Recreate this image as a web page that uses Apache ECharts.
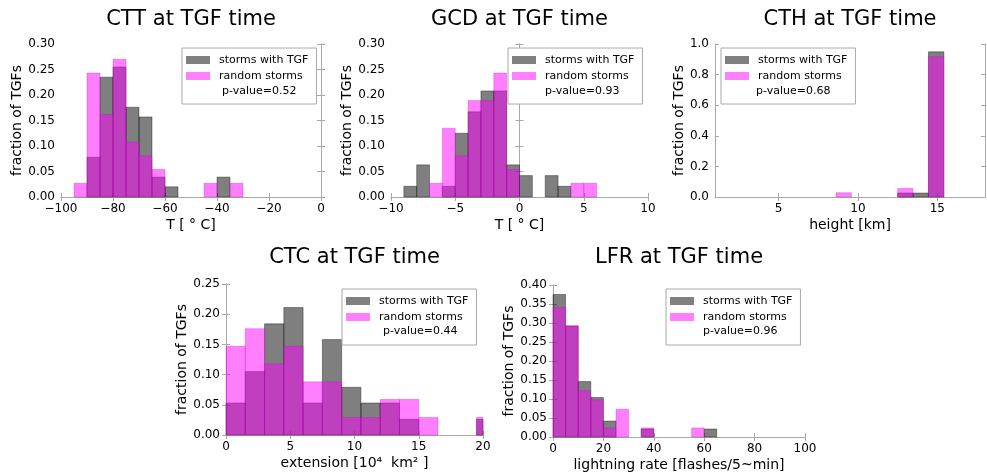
<!DOCTYPE html>
<html><head><meta charset="utf-8">
<script src="https://cdn.jsdelivr.net/npm/echarts@6/dist/echarts.min.js"></script>
<style>html,body{margin:0;padding:0;background:#fff}#c{width:987px;height:474px}</style>
</head><body><div id="c"></div>
<script>
// ---------- data ----------
const seriesNames = ['storms with TGF', 'random storms'];

// CTT (cloud top temperature)
const cttEdges  = [-95, -90, -85, -80, -75, -70, -65, -60, -55, -50, -45, -40, -35, -30];
const cttTGF    = [0, 0.078, 0.235, 0.255, 0.176, 0.157, 0.039, 0.020, 0, 0, 0, 0.039, 0];
const cttRandom = [0.027, 0.243, 0.162, 0.270, 0.108, 0.081, 0.054, 0, 0, 0, 0.027, 0, 0.027];
const cttP = 'p-value=0.52';
const cttXTicks = [-100, -80, -60, -40, -20, 0];
const cttYTicks = [0, 0.05, 0.10, 0.15, 0.20, 0.25, 0.30];

// GCD
const gcdEdges  = [-9, -8, -7, -6, -5, -4, -3, -2, -1, 0, 1, 2, 3, 4, 5, 6];
const gcdTGF    = [0.021, 0.063, 0, 0.021, 0.125, 0.167, 0.208, 0.208, 0.063, 0.042, 0, 0.042, 0.021, 0, 0];
const gcdRandom = [0, 0, 0.027, 0.135, 0.081, 0.189, 0.189, 0.243, 0.054, 0, 0, 0, 0, 0.027, 0.027];
const gcdP = 'p-value=0.93';
const gcdXTicks = [-10, -5, 0, 5, 10];
const gcdYTicks = [0, 0.05, 0.10, 0.15, 0.20, 0.25, 0.30];

// CTH (cloud top height)
const cthEdges  = [8.62, 9.59, 10.56, 11.53, 12.50, 13.47, 14.44, 15.41];
const cthTGF    = [0, 0, 0, 0, 0.026, 0.026, 0.949];
const cthRandom = [0.028, 0, 0, 0, 0.056, 0, 0.917];
const cthP = 'p-value=0.68';
const cthXRange = [1, 18];
const cthXTicks = [5, 10, 15];
const cthYTicks = [0, 0.2, 0.4, 0.6, 0.8, 1.0];

// CTC (cloud top extension)
const ctcEdges  = [0, 1.5, 3, 4.5, 6, 7.5, 9, 10.5, 12, 13.5, 15, 16.5, 18, 19.5, 21];
const ctcTGF    = [0.053, 0.105, 0.184, 0.211, 0.053, 0.158, 0.079, 0.053, 0.053, 0.026, 0, 0, 0, 0.026];
const ctcRandom = [0.147, 0.176, 0.118, 0.147, 0.088, 0.088, 0.029, 0.029, 0.059, 0.059, 0.029, 0, 0, 0.029];
const ctcP = 'p-value=0.44';
const ctcXTicks = [0, 5, 10, 15, 20];
const ctcYTicks = [0, 0.05, 0.10, 0.15, 0.20, 0.25];

// LFR (lightning flash rate)
const lfrEdges  = [0, 5, 10, 15, 20, 25, 30, 35, 40, 45, 50, 55, 60, 65];
const lfrTGF    = [0.375, 0.292, 0.146, 0.104, 0.042, 0, 0, 0.021, 0, 0, 0, 0, 0.021];
const lfrRandom = [0.341, 0.293, 0.122, 0.098, 0.024, 0.073, 0, 0.024, 0, 0, 0, 0.024, 0];
const lfrP = 'p-value=0.96';
const lfrXTicks = [0, 20, 40, 60, 80, 100];
const lfrYTicks = [0, 0.05, 0.10, 0.15, 0.20, 0.25, 0.30, 0.35, 0.40];

// ---------- layout / style ----------
const FONT = 'DejaVu Sans';
const FRAME = '#a8a8a8';
const panels = [
  {title: 'CTT at TGF time', edges: cttEdges, tgf: cttTGF, rnd: cttRandom, p: cttP, xName: 'T [ \u00b0 C]',
   xTicks: cttXTicks, yTicks: cttYTicks, yDig: 2, titleTop: 9,
   grid: {left: 61, top: 44, width: 260, height: 153}, leg: [182, 48], pPos: [222, 92.5], yGap: 34},
  {title: 'GCD at TGF time', edges: gcdEdges, tgf: gcdTGF, rnd: gcdRandom, p: gcdP, xName: 'T [ \u00b0 C]',
   xTicks: gcdXTicks, yTicks: gcdYTicks, yDig: 2, titleTop: 9,
   grid: {left: 391, top: 44, width: 257, height: 153}, leg: [508, 48], pPos: [545, 92.5], yGap: 34},
  {title: 'CTH at TGF time', edges: cthEdges, tgf: cthTGF, rnd: cthRandom, p: cthP, xName: 'height [km]',
   xTicks: cthXTicks, xRange: cthXRange, yTicks: cthYTicks, yDig: 1, titleTop: 9,
   grid: {left: 715, top: 44, width: 270, height: 153}, leg: [721, 48], pPos: [756, 92.5], yGap: 28},
  {title: 'CTC at TGF time', edges: ctcEdges, tgf: ctcTGF, rnd: ctcRandom, p: ctcP, xName: 'extension [10\u2074  km\u00b2 ]',
   xTicks: ctcXTicks, yTicks: ctcYTicks, yDig: 2, titleTop: 247,
   grid: {left: 226, top: 284, width: 257, height: 151}, leg: [342, 289], pPos: [383, 333], yGap: 34},
  {title: 'LFR at TGF time', edges: lfrEdges, tgf: lfrTGF, rnd: lfrRandom, p: lfrP, xName: 'lightning rate [flashes/5~min]',
   xTicks: lfrXTicks, yTicks: lfrYTicks, yDig: 2, titleTop: 247,
   grid: {left: 553, top: 285, width: 252, height: 152}, leg: [666, 289], pPos: [703, 333], yGap: 36}
];

function binData(edges, vals) {
  const out = [];
  vals.forEach((v, i) => { if (v > 0) out.push([edges[i], edges[i + 1], v]); });
  return out;
}
function renderBar(fill, stroke) {
  return function (params, api) {
    const p0 = api.coord([api.value(0), api.value(2)]);
    const p1 = api.coord([api.value(1), 0]);
    const cs = params.coordSys;
    const shape = echarts.graphic.clipRectByRect(
      {x: p0[0], y: p0[1], width: p1[0] - p0[0], height: p1[1] - p0[1]},
      {x: cs.x, y: cs.y, width: cs.width, height: cs.height});
    return shape && {type: 'rect', shape: shape, style: {fill: fill, stroke: stroke, lineWidth: 0.8}};
  };
}
const fmtX = v => (v < 0 ? '\u2212' + (-v) : String(v));

const option = {
  backgroundColor: '#fff', animation: false,
  textStyle: {fontFamily: FONT},
  title: [], grid: [], xAxis: [], yAxis: [], series: [], legend: [], graphic: []
};

panels.forEach((pn, i) => {
  const g = pn.grid;
  option.grid.push({left: g.left, top: g.top, width: g.width, height: g.height, containLabel: false});
  option.title.push({text: pn.title, left: g.left + g.width / 2, top: pn.titleTop, textAlign: 'center', padding: 0,
    textStyle: {fontFamily: FONT, fontSize: 21, fontWeight: 'normal', color: '#000'}});
  const xmin = pn.xRange ? pn.xRange[0] : pn.xTicks[0];
  const xmax = pn.xRange ? pn.xRange[1] : pn.xTicks[pn.xTicks.length - 1];
  const xInt = pn.xTicks[1] - pn.xTicks[0];
  const ymin = pn.yTicks[0], ymax = pn.yTicks[pn.yTicks.length - 1], yInt = pn.yTicks[1] - pn.yTicks[0];
  const common = {axisLine: {show: true, lineStyle: {color: FRAME, width: 1}},
    axisTick: {show: true, inside: true, length: 4, lineStyle: {color: FRAME}}, splitLine: {show: false}};
  const xBase = {type: 'value', gridIndex: i, min: xmin, max: xmax};
  if (!pn.xRange) xBase.interval = xInt;
  // bottom x
  option.xAxis.push(Object.assign({}, xBase, common, {
    position: 'bottom', name: pn.xName, nameLocation: 'middle', nameGap: 21,
    nameTextStyle: {fontFamily: FONT, fontSize: 14, color: '#000'},
    axisTick: Object.assign({}, common.axisTick, pn.xRange ? {customValues: pn.xTicks} : {}),
    axisLabel: Object.assign({fontFamily: FONT, fontSize: 12, color: '#000', margin: 6, formatter: fmtX},
      pn.xRange ? {customValues: pn.xTicks} : {})
  }));
  // top x (ticks only)
  option.xAxis.push(Object.assign({}, xBase, common, {
    position: 'top', axisLabel: {show: false},
    axisTick: Object.assign({}, common.axisTick, pn.xRange ? {customValues: pn.xTicks} : {})
  }));
  const yBase = {type: 'value', gridIndex: i, min: ymin, max: ymax, interval: yInt};
  option.yAxis.push(Object.assign({}, yBase, common, {
    position: 'left', name: 'fraction of TGFs', nameLocation: 'middle', nameGap: pn.yGap, nameRotate: 90,
    nameTextStyle: {fontFamily: FONT, fontSize: 14, color: '#000'},
    axisLabel: {fontFamily: FONT, fontSize: 12, color: '#000', margin: 6,
      formatter: v => Number(v).toFixed(pn.yDig)}
  }));
  option.yAxis.push(Object.assign({}, yBase, common, {position: 'right', axisLabel: {show: false}}));

  option.series.push({
    type: 'custom', name: seriesNames[0], xAxisIndex: 2 * i, yAxisIndex: 2 * i,
    itemStyle: {color: '#808080'}, renderItem: renderBar('rgba(0,0,0,0.5)', 'rgba(0,0,0,0.45)'),
    encode: {x: [0, 1], y: 2}, data: binData(pn.edges, pn.tgf)
  });
  option.series.push({
    type: 'custom', name: seriesNames[1], xAxisIndex: 2 * i, yAxisIndex: 2 * i,
    itemStyle: {color: '#ff80ff'}, renderItem: renderBar('rgba(255,0,255,0.5)', 'rgba(200,0,200,0.35)'),
    encode: {x: [0, 1], y: 2}, data: binData(pn.edges, pn.rnd)
  });

  option.legend.push({
    data: seriesNames, orient: 'vertical', left: pn.leg[0], top: pn.leg[1],
    icon: 'rect', itemWidth: 24, itemHeight: 8, itemGap: 2, selectedMode: false,
    padding: [5, 8, 21, 4], borderColor: FRAME, borderWidth: 1, backgroundColor: '#fff',
    textStyle: {fontFamily: FONT, fontSize: 11, color: '#000', lineHeight: 14, padding: [0, 0, 0, 4]}
  });
  option.graphic.push({type: 'text', left: pn.pPos[0], top: pn.pPos[1] - 7, z: 100,
    style: {text: pn.p, fontFamily: FONT, fontSize: 11, fill: '#000'}});
});

const chart = echarts.init(document.getElementById('c'), null, {renderer: 'canvas'});
chart.setOption(option);
</script>
</body></html>
